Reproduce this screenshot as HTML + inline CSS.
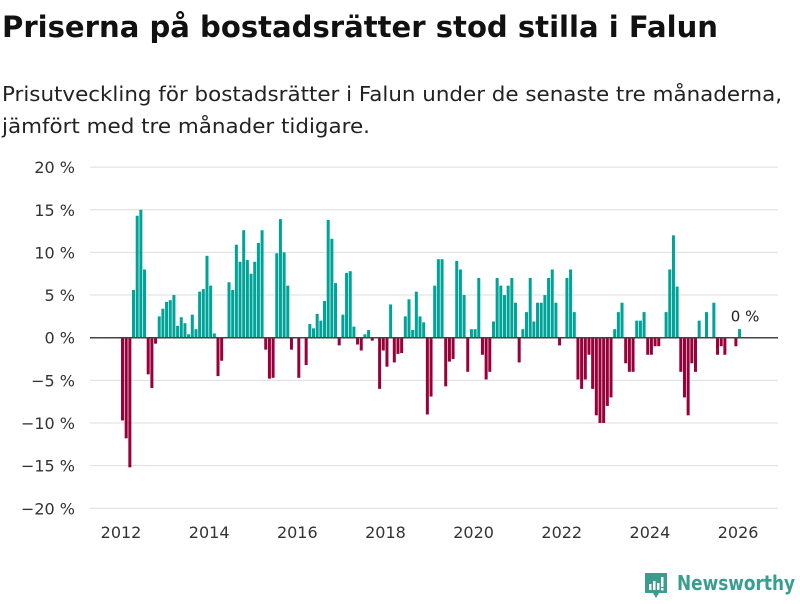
<!DOCTYPE html>
<html><head><meta charset="utf-8"><style>
body{margin:0;background:#fff;width:800px;height:600px;overflow:hidden;font-family:"DejaVu Sans","Liberation Sans",sans-serif}
</style></head><body>
<svg id="chart" width="800" height="600" xmlns="http://www.w3.org/2000/svg" font-family="DejaVu Sans, Liberation Sans, sans-serif">
<text x="2" y="37" font-size="29" font-weight="bold" fill="#111" textLength="716" lengthAdjust="spacingAndGlyphs">Priserna på bostadsrätter stod stilla i Falun</text>
<text x="2" y="101" font-size="20" fill="#222" textLength="780" lengthAdjust="spacingAndGlyphs">Prisutveckling för bostadsrätter i Falun under de senaste tre månaderna,</text>
<text x="2" y="133" font-size="20" fill="#222" textLength="368" lengthAdjust="spacingAndGlyphs">jämfört med tre månader tidigare.</text>
<g id="grid"></g>
<g id="yticks"></g>
<g id="xticks"></g>
<g id="bars"></g>
<line x1="90" x2="778" y1="337.7" y2="337.7" stroke="#444" stroke-width="1.5"/>
<text id="lastlabel" font-size="15" fill="#222" text-anchor="middle">0 %</text>
<g>
<path d="M645 573h22v20h-8l-3 5-3-5h-8z" fill="#3a9e8f"/>
<rect x="649" y="584" width="2.5" height="6" fill="#fff"/><rect x="653" y="581" width="2.5" height="9" fill="#fff"/><rect x="657" y="583" width="2.5" height="7" fill="#fff"/><rect x="661" y="577" width="2.5" height="10" fill="#fff"/><rect x="661" y="588" width="2.5" height="2.5" fill="#fff"/>
<text x="677" y="590" font-size="20" fill="#3a9e8f" font-weight="bold" textLength="118" lengthAdjust="spacingAndGlyphs">Newsworthy</text>
</g>
</svg>
<script>
const startYear = 2012;
const values = [-9.7,-11.8,-15.2,5.6,14.3,15.0,8.0,-4.3,-5.9,-0.7,2.5,3.4,
4.2,4.4,5.0,1.4,2.4,1.7,0.4,2.7,1.0,5.4,5.7,9.6,
6.1,0.5,-4.5,-2.7,0,6.5,5.6,10.9,8.9,12.6,9.1,7.5,
8.9,11.1,12.6,-1.4,-4.8,-4.7,9.9,13.9,10.0,6.1,-1.4,0,
-4.7,0,-3.2,1.6,1.1,2.8,2.0,4.3,13.8,11.6,6.4,-0.9,
2.7,7.6,7.8,1.3,-0.8,-1.5,0.4,0.9,-0.35,0,-6.0,-1.5,
-3.4,3.9,-2.9,-1.9,-1.8,2.5,4.5,0.9,5.4,2.5,1.8,-9.0,
-6.9,6.1,9.2,9.2,-5.7,-2.8,-2.5,9.0,8.0,5.0,-4.0,1.0,
1.0,7.0,-2.0,-4.9,-4.0,1.9,7.0,6.1,5.0,6.1,7.0,4.1,
-2.9,1.0,3.0,7.0,1.9,4.1,4.1,5.0,7.0,8.0,4.1,-0.9,
0,7.0,8.0,3.0,-4.9,-6.0,-4.9,-2.0,-6.0,-9.1,-10.0,-10.0,
-8.0,-7.0,1.0,3.0,4.1,-3.0,-4.0,-4.0,2.0,2.0,3.0,-2.0,
-2.0,-1.0,-1.0,0,3.0,8.0,12.0,6.0,-4.0,-7.0,-9.1,-3.0,
-4.0,2.0,0,3.0,0,4.1,-2.0,-1.0,-2.0,0,0,-1.0,
1.0];
const yTicks = [-20,-15,-10,-5,0,5,10,15,20];
const yTickLabels = ["−20 %","−15 %","−10 %","−5 %","0 %","5 %","10 %","15 %","20 %"];
const xTicks = [2012,2014,2016,2018,2020,2022,2024,2026];
const lastLabel = "0 %";

const NS="http://www.w3.org/2000/svg";
function y(v){return 337.7 - v*8.53;}
function xm(m){return 121 + m*3.673;}
function xy(yr){return xm((yr-startYear)*12);}
function mk(tag,attrs,parent){const e=document.createElementNS(NS,tag);for(const k in attrs)e.setAttribute(k,attrs[k]);parent.appendChild(e);return e;}
const grid=document.getElementById('grid'),yt=document.getElementById('yticks'),xt=document.getElementById('xticks'),bars=document.getElementById('bars');
yTicks.forEach((t,i)=>{
  const l=mk('line',{x1:90,x2:778,y1:y(t),y2:y(t),stroke:'#dedede','stroke-width':1},grid);
  
  
  const tx=mk('text',{x:75,y:y(t)+6,'font-size':16,fill:'#333','text-anchor':'end'},yt);
  
  
  tx.textContent=yTickLabels[i];
});
xTicks.forEach(yr=>{
  const tx=mk('text',{x:xy(yr),y:538,'font-size':16,fill:'#333','text-anchor':'middle'},xt);
  
  
  tx.textContent=yr;
});
values.forEach((v,m)=>{
  if(v===0)return;
  const top=v>0?y(v):y(0), h=Math.abs(y(v)-y(0));
  const r=mk('rect',{x:xm(m),y:top,width:3,height:h,fill:v>0?'#00a398':'#990039'},bars);
  
  
});
const ll=document.getElementById('lastlabel');
const lm=values.length-1;
ll.setAttribute('x',xm(lm)+7);
ll.setAttribute('y',y(0)-16);
ll.textContent=lastLabel;
</script>
</body></html>
